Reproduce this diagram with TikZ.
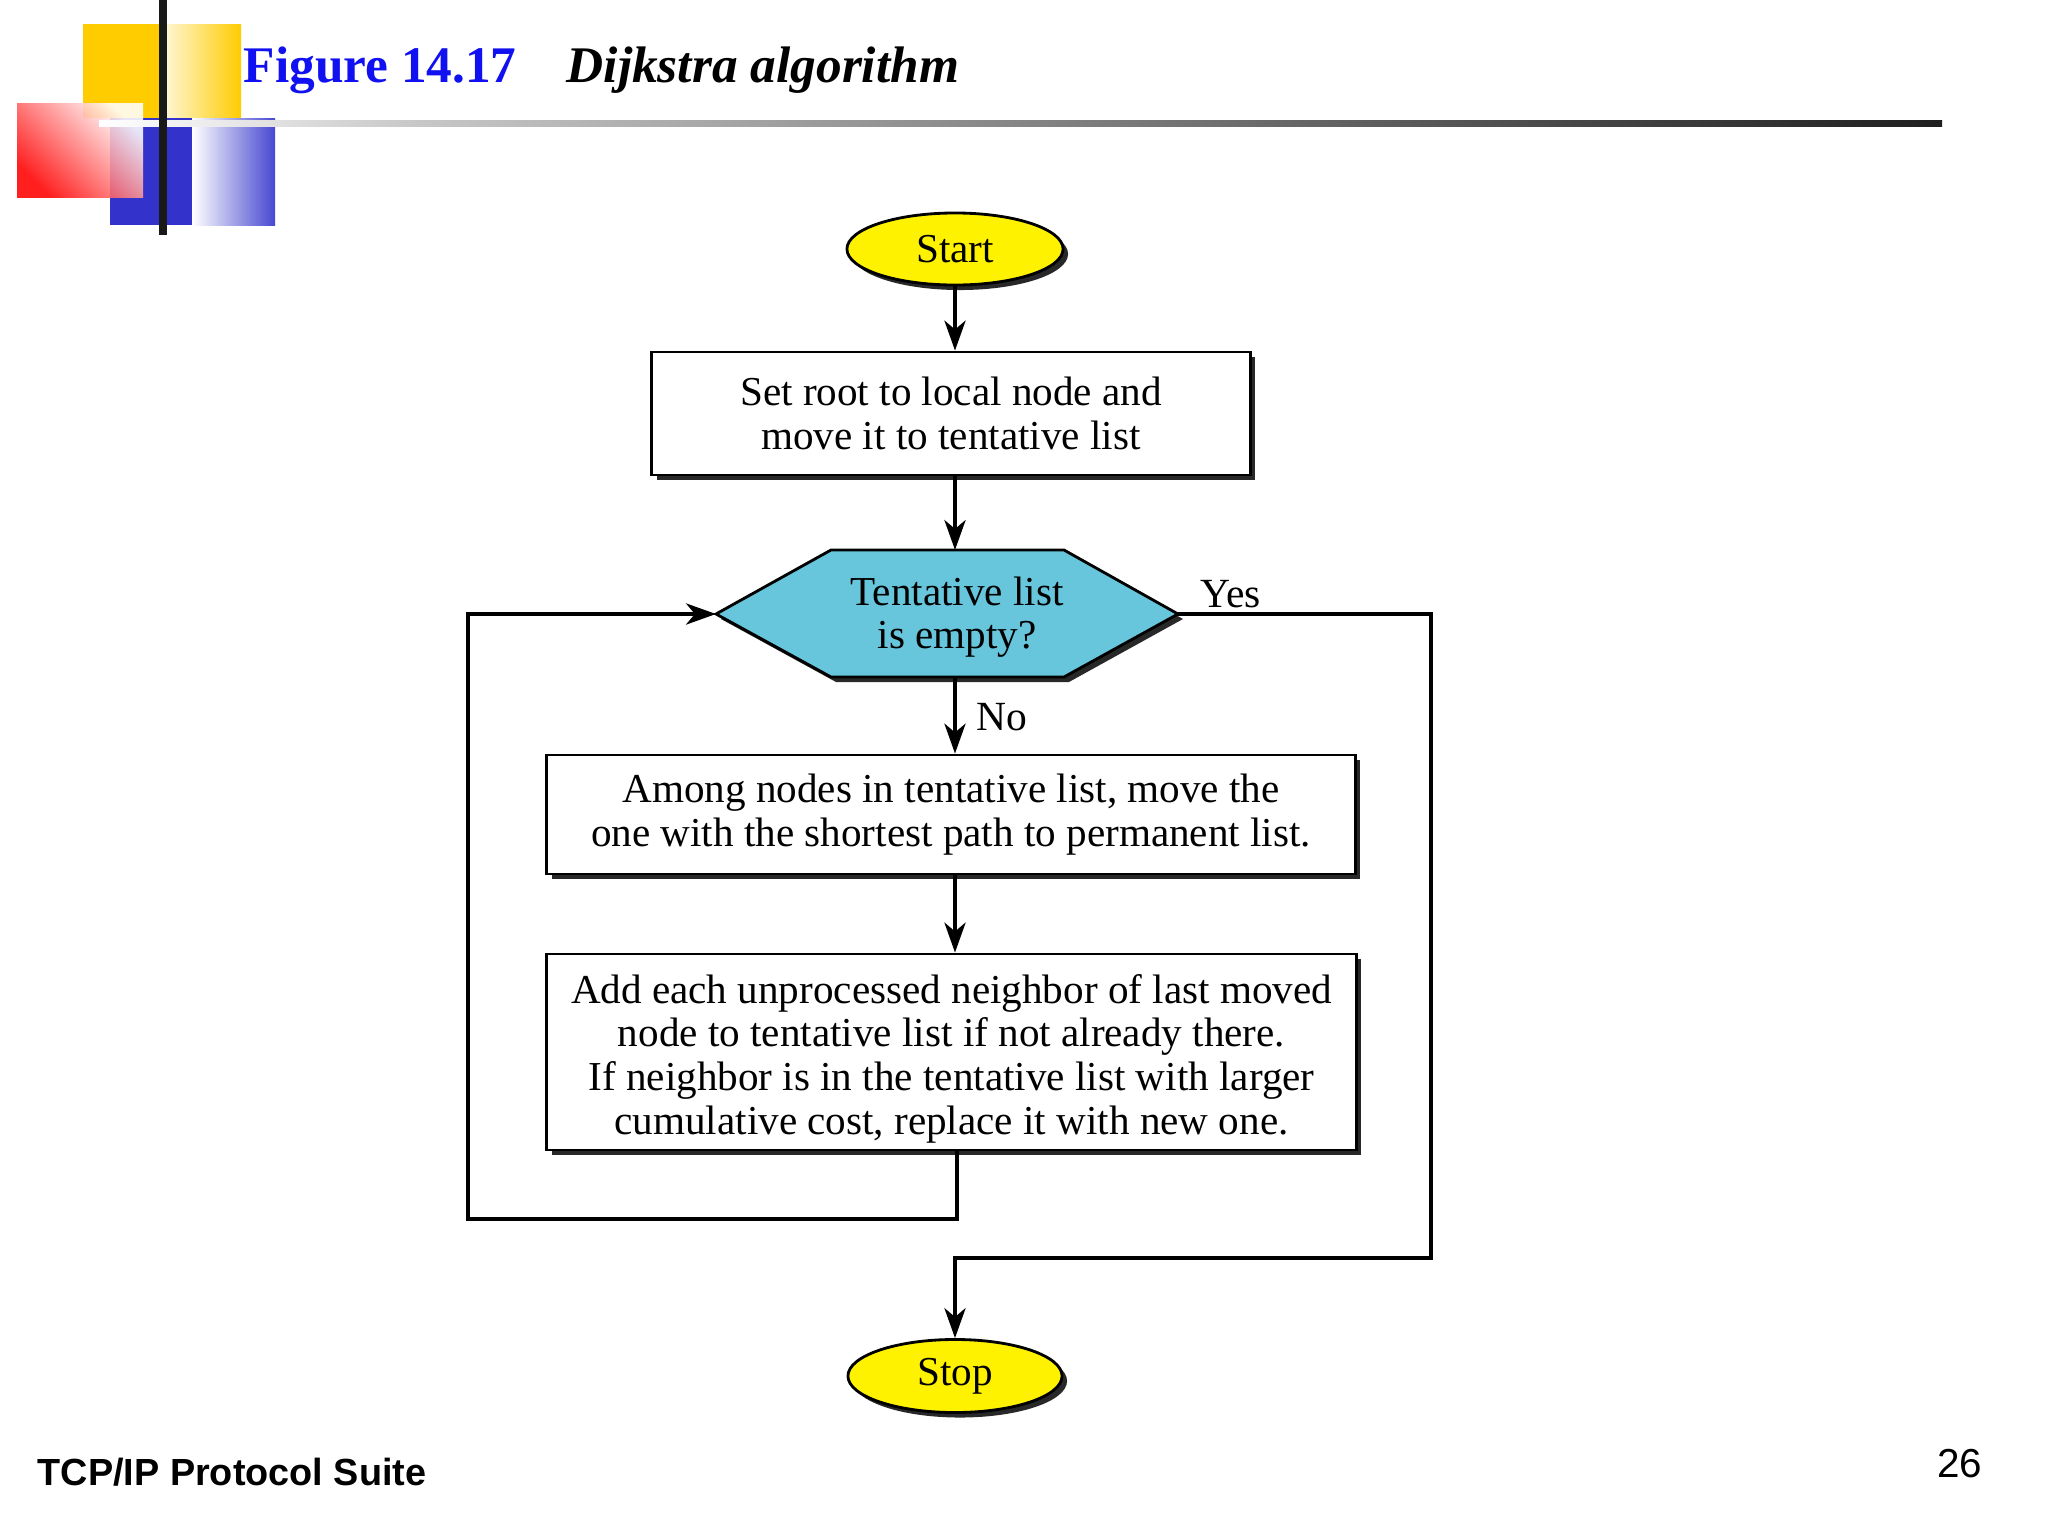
\documentclass[tikz,border=0pt]{standalone}
\usepackage{fontspec}
\setmainfont{Liberation Serif}
\newfontfamily\arialfont{Liberation Sans}
\usetikzlibrary{shadows,arrows.meta,shapes.geometric}
\definecolor{gold}{RGB}{255,204,0}
\definecolor{decblue}{RGB}{51,51,204}
\definecolor{hexblue}{RGB}{103,197,220}
\definecolor{titleblue}{RGB}{16,16,240}
\definecolor{shadowgray}{RGB}{40,40,40}
\begin{document}
\begin{tikzpicture}[x=0.01cm,y=-0.01cm,
  arr/.style={line width=1.1pt, -{Stealth[length=8.5pt,width=6pt,inset=2.5pt]}},
  flowtext/.style={font=\fontsize{11.7}{12.4}\selectfont, align=center},
  myshadow/.style={drop shadow={shadow xshift=0.05cm, shadow yshift=-0.05cm, opacity=1, fill=shadowgray}},
  term/.style={ellipse, draw, line width=0.8pt, fill=yellow, inner sep=0pt, flowtext, myshadow, minimum width=2.16cm, minimum height=0.72cm},
  procbox/.style={rectangle, draw, line width=0.8pt, fill=white, inner sep=0pt, flowtext, myshadow},
  lab/.style={font=\fontsize{11.8}{12.4}\selectfont, inner sep=0pt}
]
\useasboundingbox[fill=white] (0,0) rectangle (2048,1536);

% ---------- decoration ----------
\fill[gold] (83,24) rectangle (163,118);
\shade[left color=gold!15, right color=gold] (163,24) rectangle (241,118);
\fill[decblue] (110,118) rectangle (192,225);
\shade[left color=white, right color=decblue!90] (192,118) rectangle (275,225);
\shade[shading=axis, bottom color=red, top color=white, shading angle=-45, opacity=0.88] (17,103) rectangle (143,197);
\shade[left color=white, right color=black!22] (99,120) rectangle (420,126);
\shade[left color=black!22, right color=black!88] (420,120) rectangle (1942,126);
\draw[line width=0.07cm, black!90] (163,0) -- (163,235);

% ---------- title ----------
\node[anchor=base west, inner sep=0pt, text=titleblue, font=\fontsize{14.6}{17}\selectfont\bfseries] (fig) at (243,82) {Figure 14.17};
\node[anchor=base west, inner sep=0pt, font=\fontsize{14.6}{17}\selectfont\bfseries\itshape] (ftitle) at (566,82) {Dijkstra algorithm};

% ---------- flowchart ----------
\node[term] (start) at (955,249) {Start};
\node[procbox, minimum width=5.98cm, minimum height=1.23cm] (box1) at (951,413.5)
  {Set root to local node and\\move it to tentative list};

% hexagon
\coordinate (hexL) at (716,614);
\coordinate (hexR) at (1178,614);
\coordinate (hexT) at (955,550);
\coordinate (hexB) at (955,677);
\fill[shadowgray] ([shift={(5,5)}]716,614) -- ([shift={(5,5)}]831,550) -- ([shift={(5,5)}]1064,550)
  -- ([shift={(5,5)}]1178,614) -- ([shift={(5,5)}]1064,677) -- ([shift={(5,5)}]831,677) -- cycle;
\draw[fill=hexblue, line width=0.8pt] (hexL) -- (831,550) -- (1064,550) -- (hexR) -- (1064,677) -- (831,677) -- cycle;
\node[flowtext, inner sep=0pt] (dec) at (957,617) {Tentative list\\is empty?};

\node[procbox, minimum width=8.08cm, minimum height=1.19cm] (box2) at (951,814.5)
  {Among nodes in tentative list, move the\\one with the shortest path to permanent list.};
\node[procbox, minimum width=8.09cm, minimum height=1.96cm] (box3) at (951.5,1052)
  {\rule{0pt}{12pt}Add each unprocessed neighbor of last moved\\node to tentative list if not already there.\\If neighbor is in the tentative list with larger\\cumulative cost, replace it with new one.};
\node[term, minimum width=2.14cm, minimum height=0.73cm] (stop) at (955,1376) {Stop};

% connectors
\draw[arr] (start.south) -- (start.south |- box1.north);
\draw[arr] (box1.south -| hexT) -- (hexT);
\draw[arr] (hexB) -- (hexB |- box2.north);
\draw[arr] (box2.south -| hexT) -- (box3.north -| hexT);

\coordinate (lb) at (957,1219);
\coordinate (lc) at (468,1219);
\draw[arr] (lb |- box3.south) -- (lb) -- (lc) -- (lc |- hexL) -- (hexL);

\coordinate (ry1) at (1431,614);
\coordinate (ry2) at (1431,1258);
\coordinate (ry3) at (955,1258);
\draw[arr] (hexR) -- (ry1) -- (ry2) -- (ry3) -- (stop.north);

\node[lab, anchor=base west] (yes) at (1200,607) {Yes};
\node[lab, anchor=base west] (no) at (976,730) {No};

% ---------- footer ----------
\node[anchor=base west, inner sep=0pt, font=\arialfont\bfseries\fontsize{10.75}{12}\selectfont] (suite) at (37,1485) {TCP/IP Protocol Suite};
\node[anchor=base east, inner sep=0pt, font=\arialfont\fontsize{11.5}{13}\selectfont] (page) at (1983,1477) {26};
\end{tikzpicture}
\end{document}
